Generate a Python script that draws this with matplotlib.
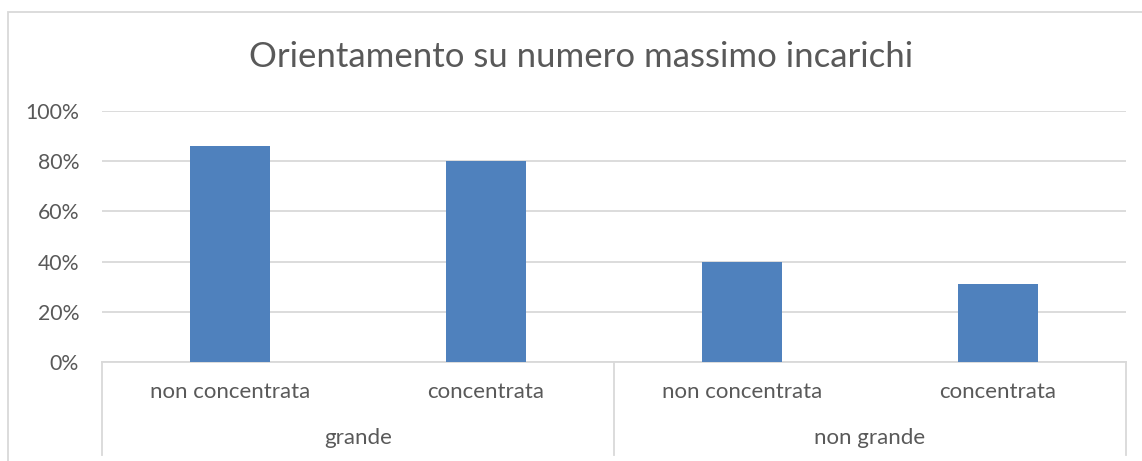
import matplotlib
matplotlib.use("Agg")
import matplotlib.pyplot as plt
from matplotlib.patches import Rectangle
from matplotlib.ticker import PercentFormatter
import matplotlib.transforms as mtrans

title = "Orientamento su numero massimo incarichi"
subcats = ["non concentrata", "concentrata", "non concentrata", "concentrata"]
groups = ["grande", "non grande"]
group_size = [2, 2]
values = [0.86, 0.80, 0.40, 0.31]

W, H = 1142, 461
FONT = "Lato"
TXT = "#595959"
GRID = "#d9d9d9"
BAR = "#4f81bd"

fig = plt.figure(figsize=(W / 100, H / 100), dpi=100)
ax = fig.add_axes([102 / W, 1 - 361.7 / H, (1126 - 102) / W, (361.7 - 111.3) / H])

x = list(range(len(values)))
ax.bar(x, values, width=0.3125, color=BAR, zorder=3)
ax.set_xlim(-0.5, len(values) - 0.5)
ax.set_ylim(0, 1)
ax.set_yticks([0, 0.2, 0.4, 0.6, 0.8, 1.0])
ax.yaxis.set_major_formatter(PercentFormatter(1.0, decimals=0))
ax.grid(axis="y", color=GRID, lw=1.3, zorder=0)
for s in ("top", "right", "left"):
    ax.spines[s].set_visible(False)
ax.spines["bottom"].set_color(GRID)
ax.spines["bottom"].set_linewidth(1.3)
ax.tick_params(axis="y", length=0, pad=16.5, labelsize=15.3, labelcolor=TXT)
ax.tick_params(axis="x", length=0, labelbottom=False)
for lab in ax.get_yticklabels():
    lab.set_fontfamily(FONT)

# two-level category axis
tr = mtrans.blended_transform_factory(ax.transData, ax.transAxes)
y_low = (361.7 - 455) / 250.4
for i, lab in enumerate(subcats):
    ax.text(i, (361.7 - 392) / 250.4, lab, transform=tr, ha="center", va="center",
            fontsize=16, color=TXT, family=FONT)
edges = [-0.5]
for n in group_size:
    edges.append(edges[-1] + n)
for e in edges:
    ax.plot([e, e], [0, y_low], transform=tr, color=GRID, lw=1.3, clip_on=False)
for g, a, b in zip(groups, edges[:-1], edges[1:]):
    ax.text((a + b) / 2, (361.7 - 438) / 250.4, g, transform=tr, ha="center", va="center",
            fontsize=16, color=TXT, family=FONT)

fig.text(581 / W, 1 - 57 / H, title, ha="center", va="center", fontsize=25,
         color=TXT, family=FONT)

# chart frame
fig.add_artist(Rectangle((8 / W, -0.1), 1.2, 1 - 12 / H + 0.1, transform=fig.transFigure,
                         fill=False, edgecolor=GRID, lw=1.3))

fig.savefig("out.png", dpi=100)
